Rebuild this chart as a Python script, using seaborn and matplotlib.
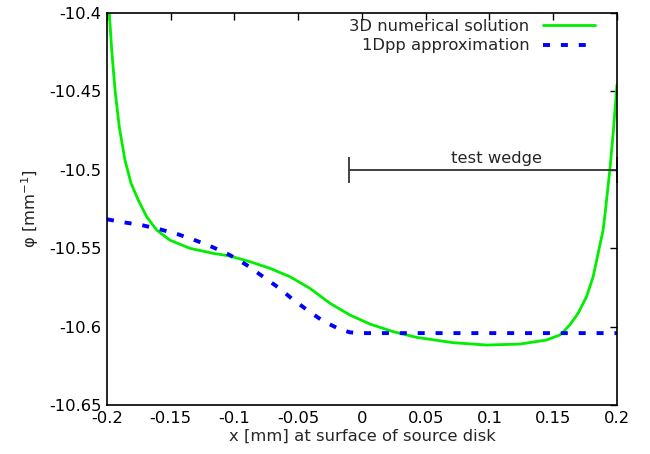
import numpy as np
import pandas as pd
import matplotlib
matplotlib.use('Agg')
import matplotlib.pyplot as plt
import seaborn as sns

# values
x_3d = [-0.2, -0.1982, -0.1963, -0.1937, -0.1904, -0.1859, -0.1812, -0.1755,
        -0.1689, -0.1610, -0.1506, -0.1349, -0.1167, -0.1036, -0.0879, -0.0722,
        -0.0565, -0.0408, -0.0251, -0.0094, 0.0062, 0.0245, 0.0428, 0.0715,
        0.0977, 0.1238, 0.1447, 0.1552, 0.1580, 0.1630, 0.1695, 0.1761,
        0.1813, 0.1852, 0.1891, 0.1904, 0.1944, 0.1970, 0.2]
y_3d = [-10.378, -10.4001, -10.4239, -10.4494, -10.4727, -10.4940, -10.5086, -10.5194,
        -10.5301, -10.5386, -10.5450, -10.5502, -10.5534, -10.5551, -10.5587, -10.5629,
        -10.5683, -10.5757, -10.5852, -10.5927, -10.5984, -10.6033, -10.6069, -10.6103,
        -10.6118, -10.6112, -10.6086, -10.6054, -10.6033, -10.5990, -10.5916, -10.5810,
        -10.5683, -10.5534, -10.5386, -10.5301, -10.5003, -10.4770, -10.446]

x_1d = [-0.2, -0.1872, -0.1728, -0.1584, -0.1441, -0.1297, -0.1167, -0.1036,
        -0.0905, -0.0775, -0.0657, -0.0552, -0.0430, -0.0309, -0.0179, -0.0095,
        -0.0016, 0.2]
y_1d = [-10.5317, -10.5336, -10.5354, -10.5381, -10.5413, -10.5454, -10.5496, -10.5545,
        -10.5608, -10.5683, -10.5751, -10.5821, -10.5895, -10.5963, -10.6016, -10.6037,
        -10.6042, -10.6042]

wedge_x = [-0.01, 0.2]
wedge_y = -10.5
wedge_label_x = 0.1055

df_3d = pd.DataFrame({'x': x_3d, 'phi': y_3d})
df_1d = pd.DataFrame({'x': x_1d, 'phi': y_1d})

sns.set_style('white')
plt.rcParams['font.family'] = ['DejaVu Sans']
plt.rcParams['font.size'] = 11.8

fig = plt.figure(figsize=(6.5, 4.54), dpi=100)
ax = fig.add_axes([0.1646, 0.1079, 0.7846, 0.8645])

sns.lineplot(data=df_3d, x='x', y='phi', color='#00ee00', linewidth=2.0,
             label='3D numerical solution', ax=ax)
sns.lineplot(data=df_1d, x='x', y='phi', color='#0000ff', linewidth=2.8,
             label='1Dpp approximation', ax=ax)
ax.lines[1].set_dashes((1.8, 2.8))
ax.lines[1].set_dash_capstyle('butt')

# test wedge marker
mid = (wedge_x[0] + wedge_x[1]) / 2
half = (wedge_x[1] - wedge_x[0]) / 2
ax.errorbar(mid, wedge_y, xerr=half, fmt='none', ecolor='#333333',
            elinewidth=1.3, capsize=9.5, capthick=1.3)
ax.text(wedge_label_x, wedge_y + 0.0025, 'test wedge', ha='center', va='bottom')

ax.set_xlim(-0.2, 0.2)
ax.set_ylim(-10.65, -10.4)
ax.set_xticks(np.arange(-0.2, 0.2001, 0.05))
ax.set_yticks(np.arange(-10.65, -10.3999, 0.05))
ax.set_xticklabels(['-0.2', '-0.15', '-0.1', '-0.05', '0', '0.05', '0.1', '0.15', '0.2'])
ax.set_yticklabels(['-10.65', '-10.6', '-10.55', '-10.5', '-10.45', '-10.4'])
ax.tick_params(direction='in', length=5, width=1, top=True, right=True,
               colors='black', pad=4)
for s in ax.spines.values():
    s.set_color('black')
    s.set_linewidth(1.2)

ax.set_xlabel('x [mm] at surface of source disk', labelpad=2)
ax.set_ylabel('φ [mm$^{-1}$]', labelpad=6)

ax.legend(loc='upper right', bbox_to_anchor=(0.9765, 1.008), frameon=False,
          markerfirst=False, handlelength=3.2, borderaxespad=0.2,
          labelspacing=0.25)

fig.savefig('out.png', dpi=100)
